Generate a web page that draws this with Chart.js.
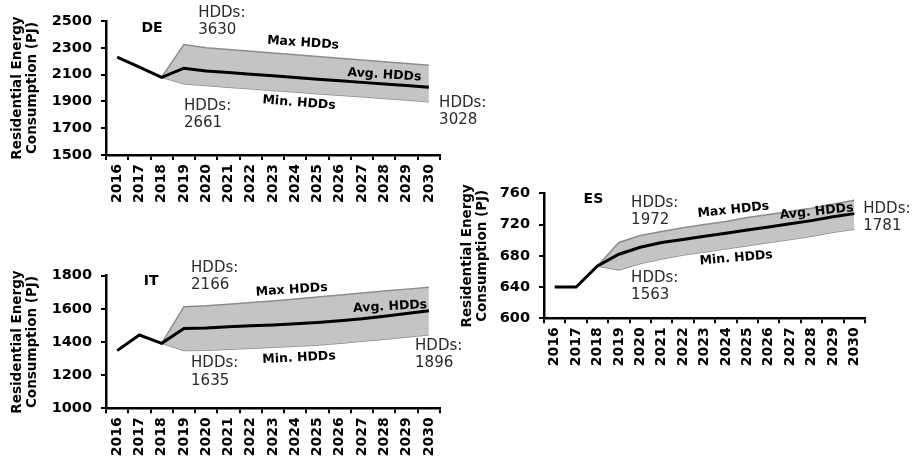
<!DOCTYPE html>
<html>
<head>
<meta charset="utf-8">
<script src="https://cdn.jsdelivr.net/npm/chart.js@4"></script>
<style>
  body { margin: 0; background: #fff; }
  #wrap { position: relative; width: 914px; height: 463px; overflow: hidden; }
  canvas { position: absolute; }
</style>
</head>
<body>
<div id="wrap">
  <canvas id="deChart" width="500" height="230" style="left:0;top:0"></canvas>
  <canvas id="itChart" width="500" height="233" style="left:0;top:230px"></canvas>
  <canvas id="esChart" width="464" height="230" style="left:450px;top:150px"></canvas>
</div>
<script>
// ------------------------
// DATA
// ------------------------
const years = ["2016", "2017", "2018", "2019", "2020", "2021", "2022", "2023",
               "2024", "2025", "2026", "2027", "2028", "2029", "2030"];

// Germany
const deAvg = [2230, 2155, 2080, 2148, 2127, 2115, 2103, 2091, 2079, 2066, 2054, 2042, 2030, 2018, 2005];
const deMax = [null, null, 2080, 2325, 2300, 2287, 2274, 2261, 2248, 2235, 2222, 2209, 2196, 2183, 2170];
const deMin = [null, null, 2080, 2032, 2018, 2006, 1994, 1982, 1970, 1958, 1946, 1934, 1922, 1910, 1898];

// Italy
const itAvg = [1348, 1442, 1392, 1482, 1485, 1492, 1498, 1503, 1510, 1518, 1528, 1540, 1555, 1572, 1589];
const itMax = [null, null, 1392, 1613, 1618, 1628, 1638, 1648, 1660, 1672, 1684, 1696, 1708, 1719, 1730];
const itMin = [null, null, 1392, 1348, 1350, 1356, 1362, 1368, 1374, 1382, 1392, 1404, 1416, 1430, 1443];

// Spain
const esAvg = [640, 640, 667, 682, 691, 697, 701, 705, 709, 713, 717, 721, 725, 730, 734];
const esMax = [null, null, 667, 697, 706, 711, 716, 720, 724, 729, 733, 737, 741, 746, 751];
const esMin = [null, null, 667, 662, 670, 676, 681, 685, 689, 693, 697, 701, 705, 710, 714];

const yTitle = ["Residential Energy", "Consumption (PJ)"];

// text labels: [text, category index, value, align, bold, rotation(deg)]
const deNotes = [
  ["DE", 1.57, 2448, "center", true, 0],
  ["HDDs:\n3630", 3.64, 2560, "left", false, 0],
  ["HDDs:\n2661", 3.0, 1866, "left", false, 0],
  ["Max HDDs", 8.35, 2336, "center", true, 4],
  ["Avg. HDDs", 12.0, 2097, "center", true, 3.5],
  ["Min. HDDs", 8.17, 1888, "center", true, 4.5],
  ["HDDs:\n3028", 14.46, 1888, "left", false, 0]
];
const itNotes = [
  ["IT", 1.53, 1764, "center", true, 0],
  ["HDDs:\n2166", 3.32, 1846, "left", false, 0],
  ["Max HDDs", 7.84, 1714, "center", true, -4],
  ["Avg. HDDs", 12.26, 1613, "center", true, -3],
  ["Min. HDDs", 8.17, 1304, "center", true, -3],
  ["HDDs:\n1635", 3.32, 1272, "left", false, 0],
  ["HDDs:\n1896", 13.38, 1376, "left", false, 0]
];
const esNotes = [
  ["ES", 1.81, 752.7, "center", true, 0],
  ["HDDs:\n1972", 3.57, 748, "left", false, 0],
  ["Max HDDs", 8.35, 738.6, "center", true, -6],
  ["Avg. HDDs", 12.24, 736.4, "center", true, -6],
  ["Min. HDDs", 8.48, 677, "center", true, -5],
  ["HDDs:\n1563", 3.57, 652, "left", false, 0],
  ["HDDs:\n1781", 14.42, 740, "left", false, 0]
];

// ------------------------
// CHART BUILDER
// ------------------------
Chart.defaults.font.family = "'DejaVu Sans', Verdana, sans-serif";
Chart.defaults.color = "#000";

const notesPlugin = {
  id: "notes",
  afterDraw(chart, args, opts) {
    const ctx = chart.ctx;
    const xs = chart.scales.x, ys = chart.scales.y;
    (opts.items || []).forEach(n => {
      const [text, i, v, align, bold, rot] = n;
      const px = xs.getPixelForValue(i);
      const py = ys.getPixelForValue(v);
      ctx.save();
      ctx.translate(px, py);
      ctx.rotate(rot * Math.PI / 180);
      ctx.textAlign = align;
      ctx.textBaseline = "middle";
      if (bold) {
        ctx.font = (text.length <= 2 ? "bold 14px " : "bold 12.5px ") + Chart.defaults.font.family;
        ctx.fillStyle = "#000";
      } else {
        ctx.font = "15px " + Chart.defaults.font.family;
        ctx.fillStyle = "#2a2a2a";
      }
      text.split("\n").forEach((line, k) => ctx.fillText(line, 0, k * 17.5));
      ctx.restore();
    });
  }
};

function makeChart(id, avg, max, min, yMin, yMax, yStep, notes, box) {
  return new Chart(document.getElementById(id), {
    type: "line",
    data: {
      labels: years,
      datasets: [
        { data: avg, borderColor: "#000", borderWidth: 3, pointRadius: 0, fill: false },
        { data: max, borderColor: "#8c8c8c", borderWidth: 1.5, pointRadius: 0,
          backgroundColor: "#c4c4c4", fill: "+1" },
        { data: min, borderColor: "#8c8c8c", borderWidth: 1.5, pointRadius: 0, fill: false }
      ]
    },
    options: {
      responsive: false,
      animation: false,
      devicePixelRatio: 1,
      layout: { padding: { left: 0, top: box.top, right: box.right, bottom: 0 } },
      plugins: {
        legend: { display: false },
        tooltip: { enabled: false },
        notes: { items: notes }
      },
      scales: {
        x: {
          offset: true,
          afterFit: s => { s.height = box.xh; },
          grid: { offset: true, drawOnChartArea: false, tickLength: 5, color: "#000", lineWidth: 2 },
          border: { color: "#000", width: 2.5 },
          ticks: { minRotation: 90, maxRotation: 90, padding: 4, autoSkip: false,
                   font: { size: 14, weight: "bold" } }
        },
        y: {
          min: yMin,
          max: yMax,
          afterFit: s => { s.width = box.yw; },
          grid: { drawOnChartArea: false, tickLength: 5, color: "#000", lineWidth: 2 },
          border: { color: "#000", width: 2.5 },
          ticks: { stepSize: yStep, padding: 9, font: { size: 14.5, weight: "bold" },
                   callback: v => String(v) },
          title: {
            display: true,
            text: yTitle,
            font: { size: 13.5, weight: "bold", lineHeight: 1.1 },
            padding: { top: 10.5, bottom: 0 }
          }
        }
      }
    },
    plugins: [notesPlugin]
  });
}

// ------------------------
// INIT
// ------------------------
makeChart("deChart", deAvg, deMax, deMin, 1500, 2500, 200, deNotes,
          { top: 21, right: 60, xh: 75, yw: 106 });
makeChart("itChart", itAvg, itMax, itMin, 1000, 1800, 200, itNotes,
          { top: 45.7, right: 60, xh: 54.7, yw: 106 });
makeChart("esChart", esAvg, esMax, esMin, 600, 760, 40, esNotes,
          { top: 43.3, right: 49, xh: 61.7, yw: 94 });
</script>
</body>
</html>
